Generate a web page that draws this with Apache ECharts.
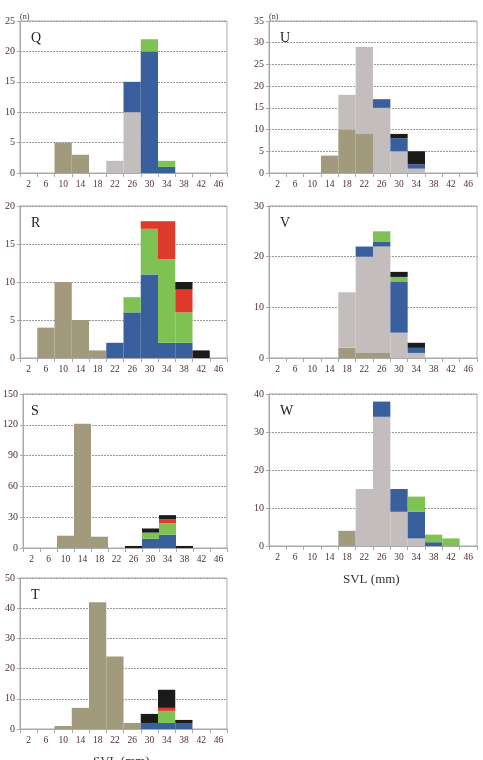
<!DOCTYPE html>
<html>
<head>
<meta charset="utf-8">
<script src="https://cdn.jsdelivr.net/npm/echarts@6/dist/echarts.min.js"></script>
<style>
  html, body { margin: 0; padding: 0; background: #fff; }
  #chart { width: 483px; height: 760px; }
</style>
</head>
<body>
<div id="chart"></div>
<script>
// SVL size classes (mm)
const svlBins = ['2', '6', '10', '14', '18', '22', '26', '30', '34', '38', '42', '46'];

// Q
const qBrown = [0, 0, 5, 3, 0, 0, 0, 0, 0, 0, 0, 0];
const qGray  = [0, 0, 0, 0, 0, 2, 10, 0, 0, 0, 0, 0];
const qBlue  = [0, 0, 0, 0, 0, 0, 5, 20, 1, 0, 0, 0];
const qGreen = [0, 0, 0, 0, 0, 0, 0, 2, 1, 0, 0, 0];
const qRed   = [0, 0, 0, 0, 0, 0, 0, 0, 0, 0, 0, 0];
const qBlack = [0, 0, 0, 0, 0, 0, 0, 0, 0, 0, 0, 0];

// R
const rBrown = [0, 4, 10, 5, 1, 0, 0, 0, 0, 0, 0, 0];
const rGray  = [0, 0, 0, 0, 0, 0, 0, 0, 0, 0, 0, 0];
const rBlue  = [0, 0, 0, 0, 0, 2, 6, 11, 2, 2, 0, 0];
const rGreen = [0, 0, 0, 0, 0, 0, 2, 6, 11, 4, 0, 0];
const rRed   = [0, 0, 0, 0, 0, 0, 0, 1, 5, 3, 0, 0];
const rBlack = [0, 0, 0, 0, 0, 0, 0, 0, 0, 1, 1, 0];

// S
const sBrown = [0, 0, 12, 121, 11, 0, 0, 0, 0, 0, 0, 0];
const sGray  = [0, 0, 0, 0, 0, 0, 0, 0, 0, 0, 0, 0];
const sBlue  = [0, 0, 0, 0, 0, 0, 0, 9, 13, 0, 0, 0];
const sGreen = [0, 0, 0, 0, 0, 0, 0, 6, 11, 0, 0, 0];
const sRed   = [0, 0, 0, 0, 0, 0, 0, 0, 4, 0, 0, 0];
const sBlack = [0, 0, 0, 0, 0, 0, 2, 4, 4, 2, 0, 0];

// T
const tBrown = [0, 0, 1, 7, 42, 24, 2, 0, 0, 0, 0, 0];
const tGray  = [0, 0, 0, 0, 0, 0, 0, 0, 0, 0, 0, 0];
const tBlue  = [0, 0, 0, 0, 0, 0, 0, 2, 2, 2, 0, 0];
const tGreen = [0, 0, 0, 0, 0, 0, 0, 0, 4, 0, 0, 0];
const tRed   = [0, 0, 0, 0, 0, 0, 0, 0, 1, 0, 0, 0];
const tBlack = [0, 0, 0, 0, 0, 0, 0, 3, 6, 1, 0, 0];

// U
const uBrown = [0, 0, 0, 4, 10, 9, 0, 0, 0, 0, 0, 0];
const uGray  = [0, 0, 0, 0, 8, 20, 15, 5, 1, 0, 0, 0];
const uBlue  = [0, 0, 0, 0, 0, 0, 2, 3, 1, 0, 0, 0];
const uGreen = [0, 0, 0, 0, 0, 0, 0, 0, 0, 0, 0, 0];
const uRed   = [0, 0, 0, 0, 0, 0, 0, 0, 0, 0, 0, 0];
const uBlack = [0, 0, 0, 0, 0, 0, 0, 1, 3, 0, 0, 0];

// V
const vBrown = [0, 0, 0, 0, 2, 1, 1, 0, 0, 0, 0, 0];
const vGray  = [0, 0, 0, 0, 11, 19, 21, 5, 1, 0, 0, 0];
const vBlue  = [0, 0, 0, 0, 0, 2, 1, 10, 1, 0, 0, 0];
const vGreen = [0, 0, 0, 0, 0, 0, 2, 1, 0, 0, 0, 0];
const vRed   = [0, 0, 0, 0, 0, 0, 0, 0, 0, 0, 0, 0];
const vBlack = [0, 0, 0, 0, 0, 0, 0, 1, 1, 0, 0, 0];

// W
const wBrown = [0, 0, 0, 0, 4, 0, 0, 0, 0, 0, 0, 0];
const wGray  = [0, 0, 0, 0, 0, 15, 34, 9, 2, 0, 0, 0];
const wBlue  = [0, 0, 0, 0, 0, 0, 4, 6, 7, 1, 0, 0];
const wGreen = [0, 0, 0, 0, 0, 0, 0, 0, 4, 2, 2, 0];
const wRed   = [0, 0, 0, 0, 0, 0, 0, 0, 0, 0, 0, 0];
const wBlack = [0, 0, 0, 0, 0, 0, 0, 0, 0, 0, 0, 0];

const layerColors = ['#a29a7d', '#c3bebd', '#3a5f9d', '#7dc253', '#df3b2c', '#1c1b1b'];

const serif = '"Liberation Serif", "DejaVu Serif", serif';
const labelColor = '#4e302b';
const lineColor = '#a9a9a9';

const panels = [
  { name: 'Q', left: 20, top: 21, height: 152, max: 25, step: 5, layers: [qBrown, qGray, qBlue, qGreen, qRed, qBlack] },
  { name: 'R', left: 20, top: 206, height: 152, max: 20, step: 5, layers: [rBrown, rGray, rBlue, rGreen, rRed, rBlack] },
  { name: 'S', left: 20, top: 394, height: 154, max: 150, step: 30, layers: [sBrown, sGray, sBlue, sGreen, sRed, sBlack] },
  { name: 'T', left: 20, top: 578, height: 151, max: 50, step: 10, layers: [tBrown, tGray, tBlue, tGreen, tRed, tBlack] },
  { name: 'U', left: 269, top: 21, height: 152, max: 35, step: 5, layers: [uBrown, uGray, uBlue, uGreen, uRed, uBlack] },
  { name: 'V', left: 269, top: 206, height: 152, max: 30, step: 10, layers: [vBrown, vGray, vBlue, vGreen, vRed, vBlack] },
  { name: 'W', left: 269, top: 394, height: 152, max: 40, step: 10, layers: [wBrown, wGray, wBlue, wGreen, wRed, wBlack] }
];

const grid = [];
const xAxis = [];
const yAxis = [];
const series = [];
const title = [];

panels.forEach((p, i) => {
  grid.push({
    left: p.left,
    top: p.top,
    width: p.left < 100 ? 207 : 208,
    height: p.height,
    show: true,
    borderColor: lineColor,
    borderWidth: 1,
    backgroundColor: 'transparent'
  });

  xAxis.push({
    type: 'category',
    gridIndex: i,
    data: svlBins,
    boundaryGap: true,
    axisLine: { lineStyle: { color: lineColor } },
    axisTick: { show: true, interval: 0, length: 4, lineStyle: { color: lineColor } },
    axisLabel: { interval: 0, color: labelColor, fontFamily: serif, fontSize: 9.5, margin: 6 }
  });

  yAxis.push({
    type: 'value',
    gridIndex: i,
    min: 0,
    max: p.max,
    interval: p.step,
    axisLine: { show: true, lineStyle: { color: lineColor } },
    axisTick: { show: true, length: 3, lineStyle: { color: lineColor } },
    axisLabel: { color: labelColor, fontFamily: serif, fontSize: 10, margin: 5 },
    splitLine: { show: true, lineStyle: { color: '#9a9a9a', type: [2, 1], width: 1 } }
  });

  p.layers.forEach((vals, k) => {
    series.push({
      type: 'bar',
      xAxisIndex: i,
      yAxisIndex: i,
      stack: 'panel' + p.name,
      data: vals,
      barWidth: '100%',
      barCategoryGap: '0%',
      itemStyle: { color: layerColors[k] },
      silent: true
    });
  });

  title.push({
    text: p.name,
    left: p.left + 6,
    top: p.top + 5,
    textStyle: { fontFamily: serif, fontSize: 14, fontWeight: 'normal', color: '#222' }
  });
});

// axis unit and x-axis captions
title.push({ text: '(n)', left: 15, top: 8, textStyle: { fontFamily: serif, fontSize: 8, fontWeight: 'normal', color: '#333' } });
title.push({ text: '(n)', left: 264, top: 8, textStyle: { fontFamily: serif, fontSize: 8, fontWeight: 'normal', color: '#333' } });
title.push({ text: 'SVL (mm)', left: 338, top: 568, textStyle: { fontFamily: serif, fontSize: 13, fontWeight: 'normal', color: '#333' } });
title.push({ text: 'SVL (mm)', left: 88, top: 750, textStyle: { fontFamily: serif, fontSize: 13, fontWeight: 'normal', color: '#333' } });

const chart = echarts.init(document.getElementById('chart'), null, { renderer: 'canvas' });
chart.setOption({
  animation: false,
  backgroundColor: '#fff',
  title: title,
  grid: grid,
  xAxis: xAxis,
  yAxis: yAxis,
  series: series
});
</script>
</body>
</html>
